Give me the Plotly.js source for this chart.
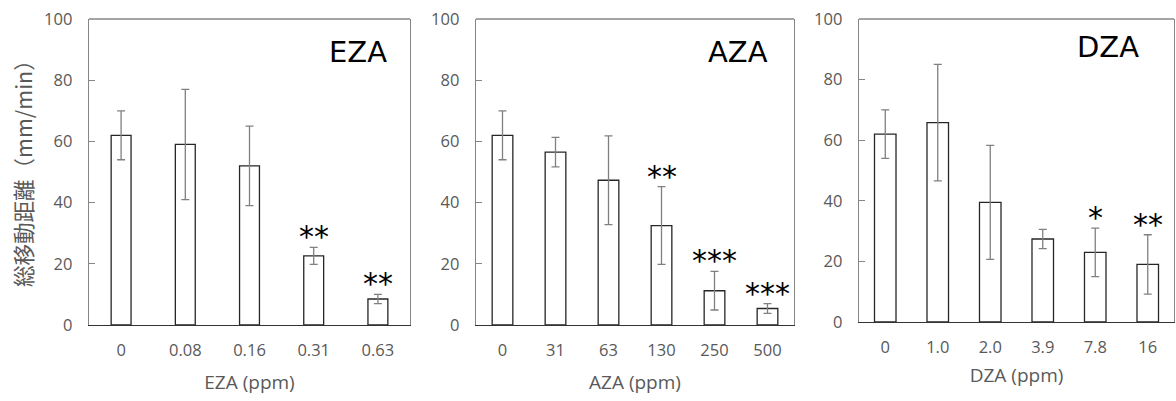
<!DOCTYPE html>
<html>
<head>
<meta charset="utf-8">
<script src="https://cdn.plot.ly/plotly-3.0.1.min.js"></script>
<style>html,body{margin:0;padding:0;background:#fff;}#chart{width:1176px;height:401px;}</style>
</head>
<body>
<div id="chart"></div>
<script>
// ---- data ----
const ezaCats = ['0', '0.08', '0.16', '0.31', '0.63'];
const ezaVals = [62, 59, 52, 22.6, 8.5];
const ezaErr = [8, 18, 13, 2.8, 1.5];
const ezaStars = ['', '', '', '**', '**'];

const azaCats = ['0', '31', '63', '130', '250', '500'];
const azaVals = [62, 56.5, 47.3, 32.5, 11.2, 5.4];
const azaErr = [8, 4.8, 14.5, 12.7, 6.3, 1.6];
const azaStars = ['', '', '', '**', '***', '***'];

const dzaCats = ['0', '1.0', '2.0', '3.9', '7.8', '16'];
const dzaVals = [62, 65.8, 39.5, 27.4, 23, 19];
const dzaErr = [8, 19.2, 18.8, 3.2, 8, 9.8];
const dzaStars = ['', '', '', '', '*', '**'];

const panelNames = ['EZA', 'AZA', 'DZA'];
const xTitles = ['EZA (ppm)', 'AZA (ppm)', 'DZA (ppm)'];
const yTitle = '総移動距離（mm/min）';

// ---- layout geometry (pixels) ----
const W = 1176, H = 401;
const boxes = [
  {x0: 89, x1: 410, y0: 19, y1: 325, bw: 0.31, lab: [358, 52], ts: 15},
  {x0: 476, x1: 794, y0: 19, y1: 325, bw: 0.39, lab: [738, 52], ts: 15},
  {x0: 859, x1: 1174, y0: 19, y1: 322, bw: 0.41, lab: [1108, 47], ts: 11}
];
const sets = [
  [ezaCats, ezaVals, ezaErr, ezaStars],
  [azaCats, azaVals, azaErr, azaStars],
  [dzaCats, dzaVals, dzaErr, dzaStars]
];

const tickFont = {family: 'Open Sans, sans-serif', size: 16.5, color: '#595959'};
const traces = [], annotations = [], shapes = [];
const layout = {
  width: W, height: H,
  margin: {l: 0, r: 0, t: 0, b: 0},
  paper_bgcolor: '#fff', plot_bgcolor: '#fff',
  showlegend: false,
  font: {family: 'Open Sans, sans-serif', color: '#595959'}
};

sets.forEach((s, i) => {
  const b = boxes[i];
  const xa = i === 0 ? 'x' : 'x' + (i + 1);
  const ya = i === 0 ? 'y' : 'y' + (i + 1);
  traces.push({
    type: 'bar', x: s[0], y: s[1], xaxis: xa, yaxis: ya, width: b.bw,
    marker: {color: '#ffffff', line: {color: '#262626', width: 1.3}},
    error_y: {type: 'data', array: s[2], visible: true, color: '#808080', thickness: 1.3, width: 4},
    hoverinfo: 'x+y'
  });
  const xkey = i === 0 ? 'xaxis' : 'xaxis' + (i + 1);
  const ykey = i === 0 ? 'yaxis' : 'yaxis' + (i + 1);
  layout[xkey] = {
    domain: [b.x0 / W, b.x1 / W], anchor: ya, type: 'category',
    categoryorder: 'array', categoryarray: s[0],
    range: [-0.5, s[0].length - 0.5], autorange: false,
    showline: true, linecolor: '#333333', linewidth: 1.3, mirror: false,
    ticks: '', showgrid: false, zeroline: false, tickangle: 0,
    tickfont: tickFont, ticklabelstandoff: 10, automargin: false,
    title: {text: xTitles[i], font: {family: 'Open Sans, sans-serif', size: 19, color: '#595959'}, standoff: b.ts}
  };
  layout[ykey] = {
    domain: [1 - b.y1 / H, 1 - b.y0 / H], anchor: xa, range: [0, 100], autorange: false,
    tickvals: [0, 20, 40, 60, 80, 100],
    showline: true, linecolor: '#868686', linewidth: 1.3, mirror: true,
    ticks: 'inside', ticklen: 6, tickcolor: '#868686', tickwidth: 1,
    showgrid: false, zeroline: false,
    tickfont: tickFont, ticklabelstandoff: 12, automargin: false
  };
  // top border in grey
  shapes.push({type: 'line', xref: 'paper', yref: 'paper',
    x0: b.x0 / W, x1: b.x1 / W, y0: 1 - b.y0 / H, y1: 1 - b.y0 / H,
    line: {color: '#868686', width: 1.3}});
  annotations.push({
    xref: 'paper', yref: 'paper', x: b.lab[0] / W, y: 1 - b.lab[1] / H,
    text: panelNames[i], showarrow: false, xanchor: 'center', yanchor: 'middle',
    font: {family: 'DejaVu Sans, sans-serif', size: 29, color: '#000000'}
  });
  s[3].forEach((st, j) => {
    if (!st) return;
    annotations.push({
      xref: xa, yref: ya, x: j, y: s[1][j] + s[2][j],
      text: st, showarrow: false, xanchor: 'center', yanchor: 'bottom', yshift: -9,
      font: {family: 'DejaVu Sans, sans-serif', size: 30, color: '#000000'}
    });
  });
});

annotations.push({
  xref: 'paper', yref: 'paper', x: 22 / W, y: 1 - 168 / H,
  text: yTitle, showarrow: false, textangle: -90, xanchor: 'center', yanchor: 'middle',
  font: {family: 'Noto Sans CJK JP, sans-serif', size: 21.5, color: '#595959'}
});

layout.annotations = annotations;
layout.shapes = shapes;

Plotly.newPlot('chart', traces, layout, {displayModeBar: false, staticPlot: true});
</script>
</body>
</html>
